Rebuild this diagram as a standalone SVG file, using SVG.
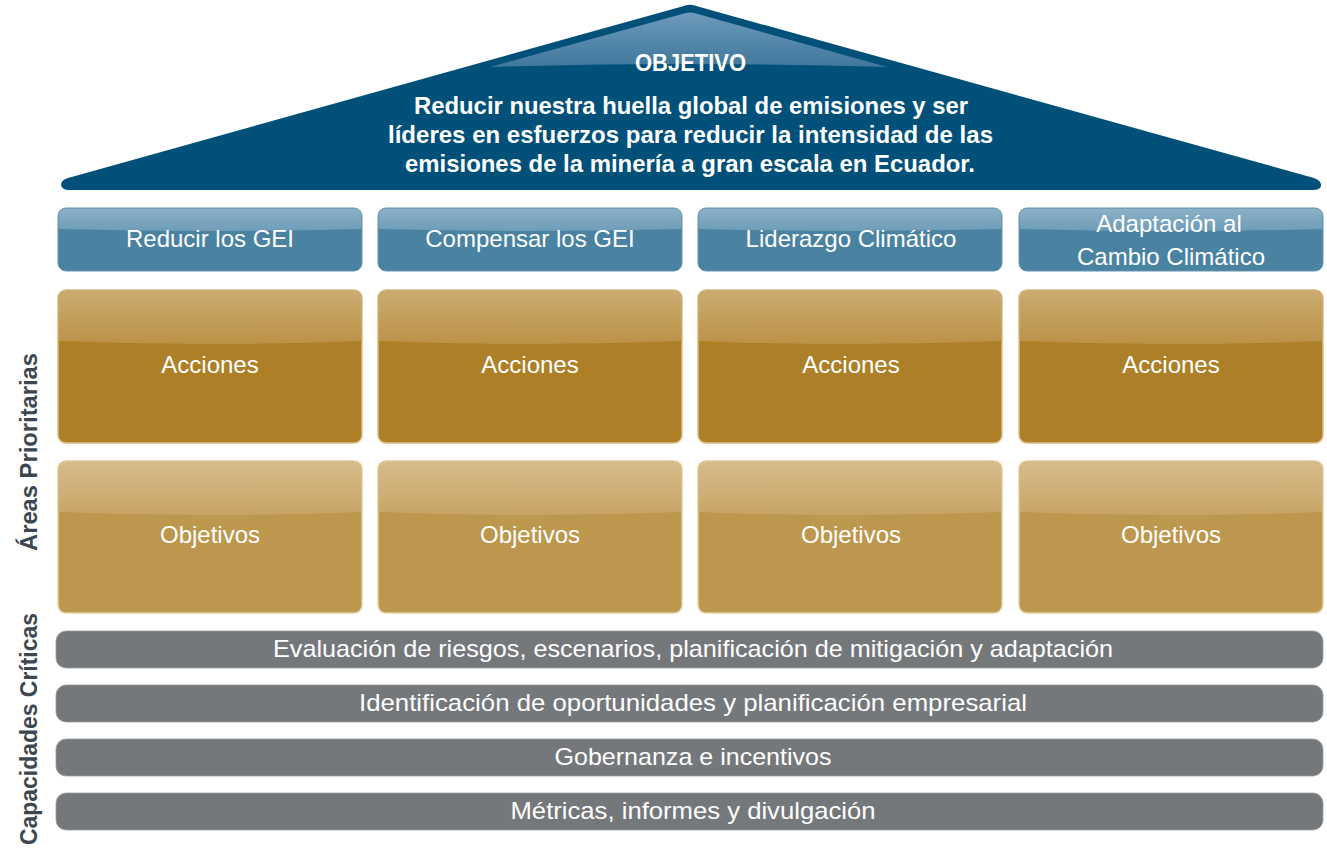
<svg xmlns="http://www.w3.org/2000/svg" width="1327" height="849" viewBox="0 0 1327 849">
  <style>
    text { font-family: "Liberation Sans", Arial, sans-serif; fill: #ffffff; text-anchor: middle; }
    .roofTitle { font-size: 24px; font-weight: bold; }
    .roofText { font-size: 24px; font-weight: bold; }
    .lbl { font-size: 24px; }
    .side { font-size: 24px; font-weight: bold; fill: #3c4750; }
    .top { fill: #4a82a2; stroke: #6694b1; stroke-width: 1; }
    .act { fill: #ad7f27; stroke: #d9bd8a; stroke-width: 1.5; }
    .obj { fill: #bd974e; stroke: #e4cfa4; stroke-width: 1.5; }
    .bar { fill: #75787b; stroke: #9a9c9e; stroke-width: 0.8; }
  </style>
  <defs>
    <linearGradient id="gTop" x1="0" y1="0" x2="0" y2="1">
      <stop offset="0" stop-color="#8cb1c7"/>
      <stop offset="1" stop-color="#6e9cb8"/>
    </linearGradient>
    <linearGradient id="gAct" x1="0" y1="0" x2="0" y2="1">
      <stop offset="0" stop-color="#cbab70"/>
      <stop offset="1" stop-color="#bb9247"/>
    </linearGradient>
    <linearGradient id="gObj" x1="0" y1="0" x2="0" y2="1">
      <stop offset="0" stop-color="#d6bc8a"/>
      <stop offset="1" stop-color="#c8a465"/>
    </linearGradient>
    <linearGradient id="gRoof" x1="0" y1="0" x2="0" y2="1">
      <stop offset="0" stop-color="#6d9bbb"/>
      <stop offset="1" stop-color="#3f779c"/>
    </linearGradient>
    <path id="glossTop" d="M0.5,8 Q0.5,0.5 8,0.5 L296,0.5 Q303.5,0.5 303.5,8 L303.5,21 Q152,25 0.5,21 Z" fill="url(#gTop)"/>
    <path id="glossAct" d="M0.8,8 Q0.8,0.8 8,0.8 L296,0.8 Q303.2,0.8 303.2,8 L303.2,51 Q152,57 0.8,51 Z" fill="url(#gAct)"/>
    <path id="glossObj" d="M0.8,8 Q0.8,0.8 8,0.8 L296,0.8 Q303.2,0.8 303.2,8 L303.2,51 Q152,57 0.8,51 Z" fill="url(#gObj)"/>
  </defs>

  <g id="roof">
    <path d="M68,178 L682,6.5 Q690,3 698,6.5 L1314,178 Q1322,181 1321,186 Q1320,190 1313,190 L69,190 Q62,190 61,185 Q61,180 68,178 Z" fill="#00507a"/>
    <path d="M490,67 L684,13.5 Q690,11.5 696,13.5 L887,67 Q690,61 490,67 Z" fill="url(#gRoof)"/>
    <text class="roofTitle" x="690.5" y="71" textLength="111" lengthAdjust="spacingAndGlyphs">OBJETIVO</text>
    <text class="roofText" x="691" y="114" textLength="554" lengthAdjust="spacingAndGlyphs">Reducir nuestra huella global de emisiones y ser</text>
    <text class="roofText" x="690.5" y="143" textLength="605" lengthAdjust="spacingAndGlyphs">líderes en esfuerzos para reducir la intensidad de las</text>
    <text class="roofText" x="690" y="172" textLength="570" lengthAdjust="spacingAndGlyphs">emisiones de la minería a gran escala en Ecuador.</text>
  </g>

  <g id="side-labels">
    <text class="side" transform="translate(37,452) rotate(-90)" textLength="198" lengthAdjust="spacingAndGlyphs">Áreas Prioritarias</text>
    <text class="side" transform="translate(37,729) rotate(-90)" textLength="232" lengthAdjust="spacingAndGlyphs">Capacidades Críticas</text>
  </g>

  <g id="header-1">
    <rect class="top" x="58" y="208" width="304" height="63" rx="8"/>
    <use href="#glossTop" x="58" y="208"/>
    <text class="lbl" x="210" y="247">Reducir los GEI</text>
  </g>
  <g id="header-2">
    <rect class="top" x="378" y="208" width="304" height="63" rx="8"/>
    <use href="#glossTop" x="378" y="208"/>
    <text class="lbl" x="530" y="247">Compensar los GEI</text>
  </g>
  <g id="header-3">
    <rect class="top" x="698" y="208" width="304" height="63" rx="8"/>
    <use href="#glossTop" x="698" y="208"/>
    <text class="lbl" x="851" y="247">Liderazgo Climático</text>
  </g>
  <g id="header-4">
    <rect class="top" x="1019" y="208" width="304" height="63" rx="8"/>
    <use href="#glossTop" x="1019" y="208"/>
    <text class="lbl" x="1169" y="232">Adaptación al</text>
    <text class="lbl" x="1171" y="265">Cambio Climático</text>
  </g>

  <g id="acciones-1">
    <rect class="act" x="58" y="290" width="304" height="153" rx="8"/>
    <use href="#glossAct" x="58" y="290"/>
    <text class="lbl" x="210" y="373">Acciones</text>
  </g>
  <g id="acciones-2">
    <rect class="act" x="378" y="290" width="304" height="153" rx="8"/>
    <use href="#glossAct" x="378" y="290"/>
    <text class="lbl" x="530" y="373">Acciones</text>
  </g>
  <g id="acciones-3">
    <rect class="act" x="698" y="290" width="304" height="153" rx="8"/>
    <use href="#glossAct" x="698" y="290"/>
    <text class="lbl" x="851" y="373">Acciones</text>
  </g>
  <g id="acciones-4">
    <rect class="act" x="1019" y="290" width="304" height="153" rx="8"/>
    <use href="#glossAct" x="1019" y="290"/>
    <text class="lbl" x="1171" y="373">Acciones</text>
  </g>

  <g id="objetivos-1">
    <rect class="obj" x="58" y="461" width="304" height="152" rx="8"/>
    <use href="#glossObj" x="58" y="461"/>
    <text class="lbl" x="210" y="543">Objetivos</text>
  </g>
  <g id="objetivos-2">
    <rect class="obj" x="378" y="461" width="304" height="152" rx="8"/>
    <use href="#glossObj" x="378" y="461"/>
    <text class="lbl" x="530" y="543">Objetivos</text>
  </g>
  <g id="objetivos-3">
    <rect class="obj" x="698" y="461" width="304" height="152" rx="8"/>
    <use href="#glossObj" x="698" y="461"/>
    <text class="lbl" x="851" y="543">Objetivos</text>
  </g>
  <g id="objetivos-4">
    <rect class="obj" x="1019" y="461" width="304" height="152" rx="8"/>
    <use href="#glossObj" x="1019" y="461"/>
    <text class="lbl" x="1171" y="543">Objetivos</text>
  </g>

  <g id="capacidad-1">
    <rect class="bar" x="56" y="631" width="1267" height="37" rx="10"/>
    <text class="lbl" x="693" y="657" textLength="840" lengthAdjust="spacingAndGlyphs">Evaluación de riesgos, escenarios, planificación de mitigación y adaptación</text>
  </g>
  <g id="capacidad-2">
    <rect class="bar" x="56" y="685" width="1267" height="37" rx="10"/>
    <text class="lbl" x="693" y="711" textLength="668" lengthAdjust="spacingAndGlyphs">Identificación de oportunidades y planificación empresarial</text>
  </g>
  <g id="capacidad-3">
    <rect class="bar" x="56" y="739" width="1267" height="37" rx="10"/>
    <text class="lbl" x="693" y="765" textLength="277" lengthAdjust="spacingAndGlyphs">Gobernanza e incentivos</text>
  </g>
  <g id="capacidad-4">
    <rect class="bar" x="56" y="793" width="1267" height="37" rx="10"/>
    <text class="lbl" x="693" y="819" textLength="365" lengthAdjust="spacingAndGlyphs">Métricas, informes y divulgación</text>
  </g>

  <g id="connectors"/>
</svg>
